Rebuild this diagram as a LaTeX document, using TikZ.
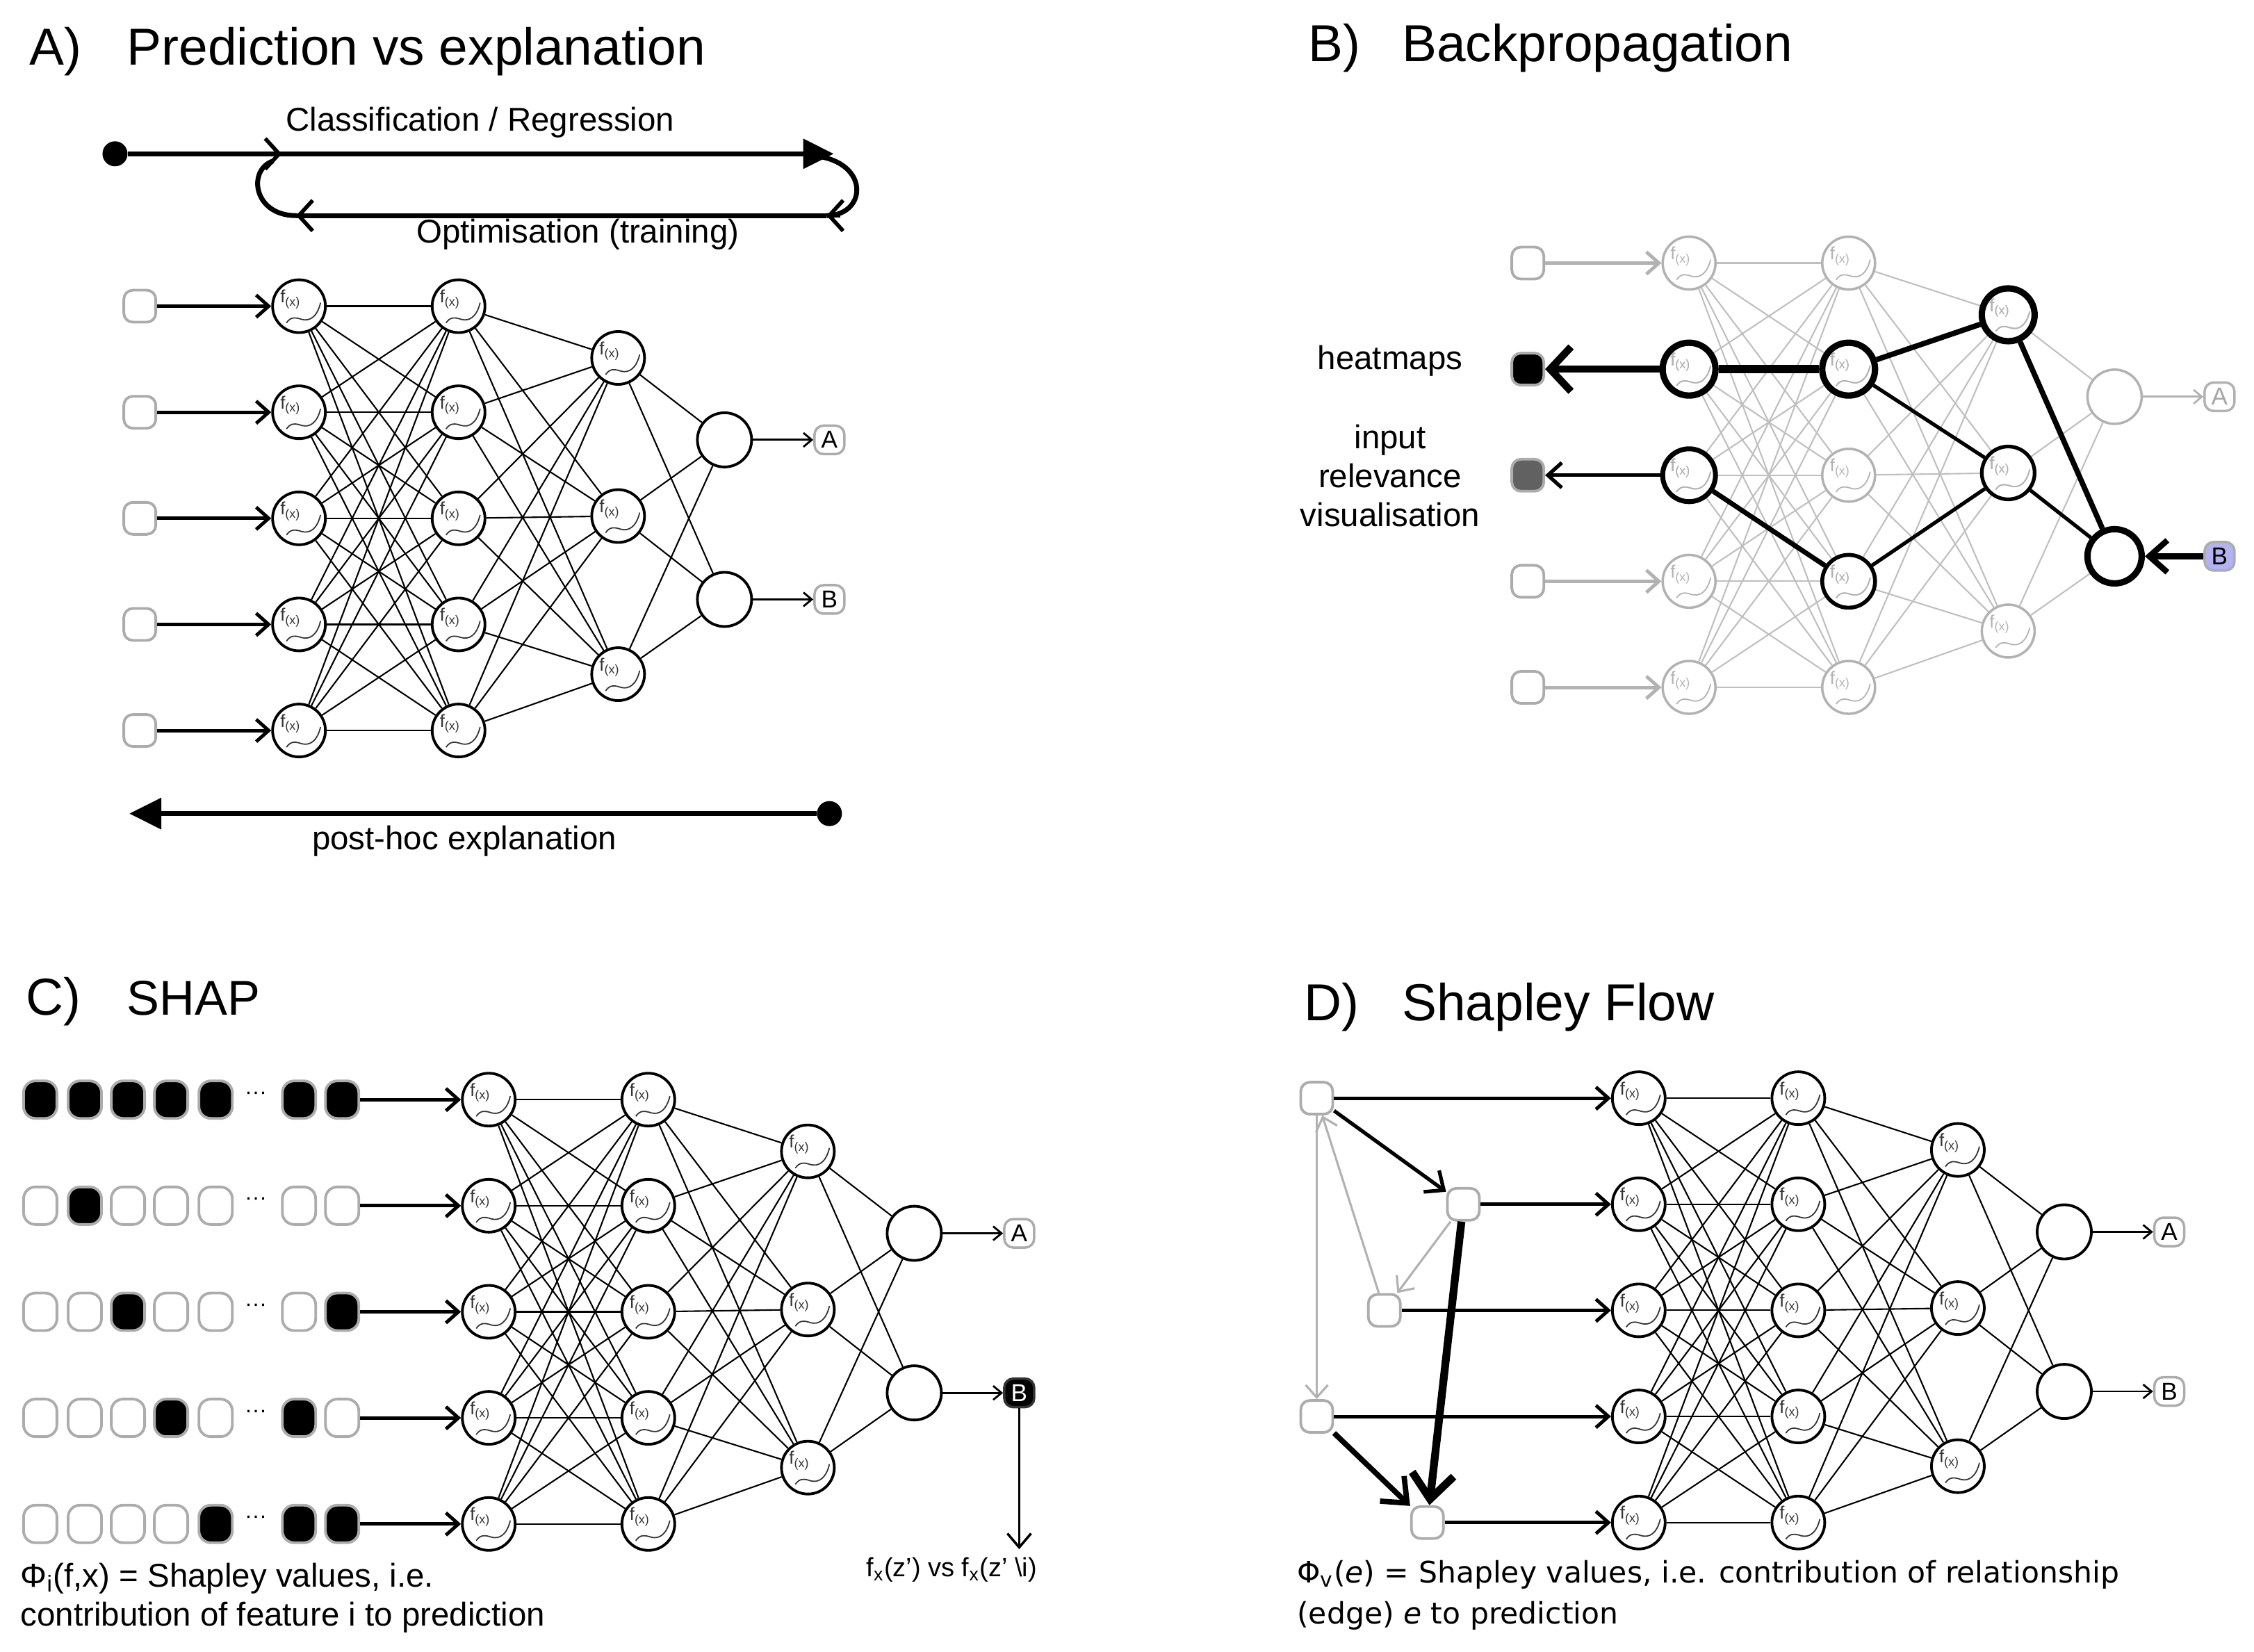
\documentclass[tikz,border=0pt]{standalone}
\usepackage{fontspec}
\setmainfont{Liberation Sans}
\newfontfamily\flowfont{DejaVu Sans}
\usetikzlibrary{arrows.meta}

\definecolor{relblue}{HTML}{B3B3F2}
\newcommand{\fxfont}{\fontsize{7.3}{7.3}\selectfont}

\tikzset{
  fxbase/.style={circle, minimum size=7.6mm, inner sep=0pt,
    path picture={
      \begin{scope}[shift={(path picture bounding box.center)}]
        \node[text=#1, inner sep=0pt, font=\fxfont] at (-1.2mm,1mm) {f\textsubscript{(x)}};
        \draw[#1, line width=0.5pt] (-1.8mm,-2.4mm) .. controls (-1.2mm,-1.5mm) and (-0.5mm,-1.6mm) .. (0.4mm,-1.9mm)
          .. controls (1.5mm,-2.2mm) and (2.6mm,-1.6mm) .. (3.1mm,0.5mm);
      \end{scope}
    }},
  fx/.style={fxbase=black!80, draw=black, line width=1.1pt},
  fxg/.style={fxbase=gray!60, draw=gray!60, line width=1pt},
  outn/.style={circle, draw=black, line width=1.1pt, minimum size=7.8mm, inner sep=0pt},
  outng/.style={outn, draw=gray!60, line width=1pt},
  inbox/.style={draw=gray!65, fill=white, line width=1.1pt, rounded corners=1.3mm, minimum size=4.6mm, inner sep=0pt},
  sbox/.style={draw=gray!65, line width=1.1pt, rounded corners=1.7mm, minimum width=4.8mm, minimum height=5.4mm, inner sep=0pt},
  outlab/.style={draw=gray!65, fill=white, line width=1pt, rounded corners=1.3mm, minimum width=4.3mm, minimum height=4.1mm, inner sep=0pt, font=\fontsize{10}{10}\selectfont},
  link/.style={line width=0.6pt},
  linkg/.style={line width=0.6pt, gray!50},
  feed/.style={line width=1.4pt, -{Straight Barb[length=1.8mm, width=3.2mm]}},
  tolab/.style={line width=0.8pt, -{Straight Barb[length=1.2mm, width=2mm]}},
  loopbarb/.style={line width=1.6pt, -{Straight Barb[length=2mm, width=4.4mm]}},
  bigline/.style={line width=2pt},
  title/.style={font=\fontsize{21.3}{25}\selectfont, anchor=base west, inner sep=0pt},
  txt/.style={font=\fontsize{13.5}{16}\selectfont, inner sep=0pt},
  dtxt/.style={font=\flowfont\fontsize{12.1}{17}\selectfont, inner sep=0pt},
  dot/.style={circle, fill=black, minimum size=3.6mm, inner sep=0pt},
}

% network of four layers, #1 = name prefix, #2 = origin, #3 = hidden node style, #4 = output node style
\newcommand{\neuralnet}[4]{%
  \begin{scope}[shift={#2}]
    \foreach \i in {1,...,5} {
      \node[#3] (#1-1-\i) at (0,{(\i-1)*73.8}) {};
      \node[#3] (#1-2-\i) at (111,{(\i-1)*73.8}) {};
    }
    \foreach \i/\y in {1/36, 2/146, 3/256}
      \node[#3] (#1-3-\i) at (222,\y) {};
    \foreach \i/\y in {1/93, 2/204}
      \node[#4] (#1-4-\i) at (296,\y) {};
  \end{scope}
}
% all connections between the layers, #2 = line style
\newcommand{\netlinks}[2]{%
  \foreach \i in {1,...,5} {
    \foreach \j in {1,...,5} \draw[#2] (#1-1-\i) -- (#1-2-\j);
    \foreach \j in {1,2,3} \draw[#2] (#1-2-\i) -- (#1-3-\j);
  }
  \foreach \i in {1,2,3} \foreach \j in {1,2} \draw[#2] (#1-3-\i) -- (#1-4-\j);
}

\begin{document}
\begin{tikzpicture}[x=0.2068mm, y=-0.2068mm]
\useasboundingbox (0,0) rectangle (1568,1149);

% A) prediction vs explanation
\node[title] (A-head) at (20,45) {A)};
\node[title] (A-title) at (88,45) {Prediction vs explanation};

\node[dot] (fwdstart) at (80,107) {};
\coordinate (fwdend) at (580,107);
\draw[bigline, -{Triangle[length=4.4mm, width=4.2mm]}] (fwdstart) -- (fwdend);
\node[txt] (lblcls) at (334,85) {Classification / Regression};

% training loop
\coordinate (loopR) at (562,108);
\coordinate (loopRb) at (575,150);
\coordinate (loopLb) at (206,150);
\coordinate (loopL) at (190,112);
\draw[bigline] (loopR) .. controls (606,110) and (604,150) .. (loopRb);
\draw[bigline] (loopRb) -- (loopLb);
\draw[bigline] (loopLb) .. controls (176,150) and (172,118) .. (loopL);
\draw[loopbarb] ([xshift=2mm]loopRb) -- (loopRb);
\draw[loopbarb] ([xshift=2mm]loopLb) -- (loopLb);
\draw[loopbarb] (180,107) -- (196,107);
\node[txt] (lblopt) at (402,163) {Optimisation (training)};

\neuralnet{A}{(208,213)}{fx}{outn}
\netlinks{A}{link}
\foreach \i in {1,...,5} {
  \node[inbox] (A-in\i) at ([xshift=-22.9mm]A-1-\i) {};
  \draw[feed] (A-in\i) -- (A-1-\i);
}
\node[outlab] (A-labA) at ([xshift=15.1mm]A-4-1) {A};
\node[outlab] (A-labB) at ([xshift=15.1mm]A-4-2) {B};
\draw[tolab] (A-4-1) -- (A-labA);
\draw[tolab] (A-4-2) -- (A-labB);

\node[dot] (bwdstart) at (577,566) {};
\coordinate (bwdend) at (90,566);
\draw[bigline, -{Triangle[length=4.6mm, width=4.4mm]}] (bwdstart) -- (bwdend);
\node[txt] (lblpost) at (323,585) {post-hoc explanation};

% B) backpropagation
\node[title] (B-head) at (910,43) {B)};
\node[title] (B-title) at (975,43) {Backpropagation};

\neuralnet{B}{(1175,183)}{fxg}{outng}
\netlinks{B}{linkg}
\foreach \i/\c in {1/white, 2/black, 3/black!62, 4/white, 5/white}
  \node[inbox, fill=\c] (B-in\i) at ([xshift=-23.2mm]B-1-\i) {};
\foreach \i in {1,4,5}
  \draw[feed, gray!60] (B-in\i) -- (B-1-\i);

% relevant path
\foreach \n/\w in {1-2/2.6pt, 1-3/2pt, 2-2/2.6pt, 2-4/1.6pt, 3-1/2.6pt, 3-2/1.5pt}
  \node[fxbase=gray!60, draw=black, line width=\w] (B-\n-hot) at (B-\n) {};
\node[outn, line width=2.6pt] (B-4-2-hot) at (B-4-2) {};
\foreach \a/\b/\w in {1-2/2-2/3.4pt, 2-2/3-1/2.2pt, 2-2/3-2/1.5pt, 1-3/2-4/2pt, 2-4/3-2/1.5pt, 3-1/4-2/2.2pt, 3-2/4-2/1.5pt}
  \draw[line width=\w] (B-\a-hot) -- (B-\b-hot);
\draw[line width=3pt, -{Straight Barb[length=3mm, width=6.4mm]}] (B-1-2-hot) -- (B-in2);
\draw[line width=1.5pt, -{Straight Barb[length=2mm, width=3.6mm]}] (B-1-3-hot) -- (B-in3);

\node[outlab, draw=gray!60, text=gray!70] (B-labA) at ([xshift=15.1mm]B-4-1) {A};
\node[outlab, fill=relblue] (B-labB) at ([xshift=15.1mm]B-4-2) {B};
\draw[tolab, gray!60] (B-4-1) -- (B-labA);
\draw[line width=2.4pt, -{Straight Barb[length=2.6mm, width=4.6mm]}] (B-labB) -- (B-4-2-hot);

\node[txt] (lblheat) at (967,251) {heatmaps};
\node[txt, align=center] (lblrel) at (967,331) {input\\relevance\\visualisation};

% C) SHAP
\node[title] (C-head) at (18,706) {C)};
\node[title, font=\fontsize{20}{24}\selectfont] (C-title) at (88,706) {SHAP};

\neuralnet{C}{(340,765)}{fx}{outn}
\netlinks{C}{link}
\foreach \r/\pa/\pb/\pc/\pd/\pe/\pf/\pg in {
    1/black/black/black/black/black/black/black,
    2/white/black/white/white/white/white/white,
    3/white/white/black/white/white/white/black,
    4/white/white/white/black/white/black/white,
    5/white/white/white/white/black/black/black} {
  \foreach \k/\x/\fc in {1/28/\pa, 2/59/\pb, 3/89/\pc, 4/119/\pd, 5/150/\pe, 6/208/\pf, 7/238/\pg}
    \node[sbox, fill=\fc] (C-z\r-\k) at (\x,{765+(\r-1)*73.8}) {};
  \node[font=\fontsize{9}{9}\selectfont, inner sep=0pt] (C-dots\r) at (178,{762+(\r-1)*73.8}) {···};
  \draw[feed] (C-z\r-7) -- (C-1-\r);
}
\node[outlab] (C-labA) at ([xshift=15.1mm]C-4-1) {A};
\node[outlab, fill=black, draw=black!80, text=white] (C-labB) at ([xshift=15.1mm]C-4-2) {B};
\draw[tolab] (C-4-1) -- (C-labA);
\draw[tolab] (C-4-2) -- (C-labB);
\coordinate (C-down) at ([yshift=-22.5mm]C-labB);
\draw[line width=1pt, -{Straight Barb[length=2mm, width=3.4mm]}] (C-labB) -- (C-down);
\node[font=\fontsize{10.8}{12}\selectfont, inner sep=0pt] (C-cmp) at (662,1092) {f\textsubscript{x}(z’) vs f\textsubscript{x}(z’ \textbackslash i)};
\node[txt, anchor=north west, align=left] (C-note) at (14,1087) {Φ\textsubscript{i}(f,x) = Shapley values, i.e.\\contribution of feature i to prediction};

% D) Shapley Flow
\node[title] (D-head) at (907,710) {D)};
\node[title] (D-title) at (975,710) {Shapley Flow};

\neuralnet{D}{(1140,764)}{fx}{outn}
\netlinks{D}{link}
\foreach \i/\x in {1/916, 2/1018, 3/963, 4/916, 5/993} {
  \node[inbox] (D-g\i) at (\x,{764+(\i-1)*73.8}) {};
  \draw[feed] (D-g\i) -- (D-1-\i);
}
% causal graph between the inputs
\draw[line width=1.5pt, -{Straight Barb[length=2.2mm, width=3.8mm]}] (D-g1) -- (D-g2);
\draw[gray!60, line width=0.9pt, -{Straight Barb[length=1.8mm, width=3.2mm]}] (D-g2) -- (D-g3);
\draw[gray!60, line width=0.9pt, -{Straight Barb[length=1.8mm, width=3.2mm]}] (D-g3) -- (D-g1);
\draw[gray!60, line width=0.9pt, -{Straight Barb[length=1.8mm, width=3.2mm]}] (D-g1) -- (D-g4);
\draw[line width=3.2pt, -{Straight Barb[length=3.6mm, width=6mm]}] (D-g2) -- (D-g5);
\draw[line width=2.2pt, -{Straight Barb[length=3mm, width=5mm]}] (D-g4) -- (D-g5);

\node[outlab] (D-labA) at ([xshift=15.1mm]D-4-1) {A};
\node[outlab] (D-labB) at ([xshift=15.1mm]D-4-2) {B};
\draw[tolab] (D-4-1) -- (D-labA);
\draw[tolab] (D-4-2) -- (D-labB);
\node[dtxt, anchor=north west, align=left] (D-note) at (902,1085) {Φ\textsubscript{v}(\textit{e}) = Shapley values, i.e. contribution of relationship\\(edge) \textit{e} to prediction};
\end{tikzpicture}
\end{document}
